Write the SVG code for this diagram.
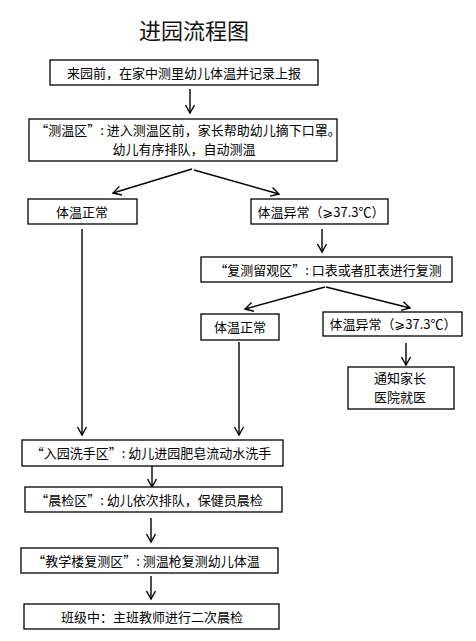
<svg xmlns="http://www.w3.org/2000/svg" width="476" height="641" viewBox="0 0 476 641">
<defs>
<marker id="ah" markerWidth="12" markerHeight="12" refX="9" refY="5" orient="auto" markerUnits="userSpaceOnUse" viewBox="0 0 12 10">
<polyline points="1,0.5 9,5 1,9.5" fill="none" stroke="#000" stroke-width="1.4"/>
</marker>
</defs>
<style>
.box{fill:#fff;stroke:#000;stroke-width:1.3}
.t{font-family:"Noto Sans CJK SC","DejaVu Sans",sans-serif;font-size:13px;fill:#000;text-anchor:middle}
.ttl{font-family:"Noto Sans CJK SC",sans-serif;font-size:22px;fill:#111;text-anchor:middle}
.c{stroke:#000;stroke-width:1.4;fill:none;marker-end:url(#ah)}
</style>
<rect width="476" height="641" fill="#fff"/>
<text class="ttl" x="194" y="39">进园流程图</text>
<g id="connectors">
<line class="c" x1="190" y1="89" x2="190" y2="113"/>
<line class="c" x1="192" y1="169" x2="113" y2="193"/>
<line class="c" x1="194" y1="170" x2="279" y2="194"/>
<line class="c" x1="322" y1="229" x2="322" y2="252"/>
<line class="c" x1="325" y1="287" x2="245" y2="309"/>
<line class="c" x1="326" y1="287" x2="410" y2="308"/>
<line class="c" x1="406" y1="343" x2="406" y2="365"/>
<line class="c" x1="82" y1="229" x2="82" y2="435"/>
<line class="c" x1="239" y1="342" x2="239" y2="435"/>
<line class="c" x1="152" y1="466" x2="152" y2="487"/>
<line class="c" x1="151" y1="518" x2="151" y2="542"/>
<line class="c" x1="151" y1="576" x2="151" y2="599"/>
</g>
<g id="n1"><rect class="box" x="50" y="60" width="268" height="25"/><text class="t" x="184" y="77.5">来园前，在家中测里幼儿体温并记录上报</text></g>
<g id="n2"><rect class="box" x="29" y="119" width="308" height="42"/><text class="t" x="188" y="135">“测温区”: 进入测温区前，家长帮助幼儿摘下口罩。</text><text class="t" x="184" y="153.5">幼儿有序排队，自动测温</text></g>
<g id="n3"><rect class="box" x="28" y="199" width="109" height="25"/><text class="t" x="82" y="216.5">体温正常</text></g>
<g id="n4"><rect class="box" x="251" y="199" width="137" height="25"/><text class="t" x="321" y="216.5">体温异常（⩾37.3℃）</text></g>
<g id="n5"><rect class="box" x="201" y="257" width="251" height="25"/><text class="t" x="328" y="274.5">“复测留观区”: 口表或者肛表进行复测</text></g>
<g id="n6"><rect class="box" x="201" y="314" width="78" height="26"/><text class="t" x="240" y="331.5">体温正常</text></g>
<g id="n7"><rect class="box" x="323" y="312" width="139" height="24"/><text class="t" x="393" y="328.5">体温异常（⩾37.3℃）</text></g>
<g id="n8"><rect class="box" x="348" y="367" width="106" height="42"/><text class="t" x="400" y="383">通知家长</text><text class="t" x="400" y="401.5">医院就医</text></g>
<g id="n9"><rect class="box" x="22" y="440" width="261" height="26"/><text class="t" x="151" y="458">“入园洗手区”: 幼儿进园肥皂流动水洗手</text></g>
<g id="n10"><rect class="box" x="25" y="487" width="257" height="25"/><text class="t" x="149" y="504.5">“晨检区”: 幼儿依次排队，保健员晨检</text></g>
<g id="n11"><rect class="box" x="21" y="548" width="257" height="25"/><text class="t" x="146" y="565.5">“教学楼复测区”: 测温枪复测幼儿体温</text></g>
<g id="n12"><rect class="box" x="24" y="604" width="255" height="25"/><text class="t" x="152" y="621.5">班级中：主班教师进行二次晨检</text></g>
</svg>
